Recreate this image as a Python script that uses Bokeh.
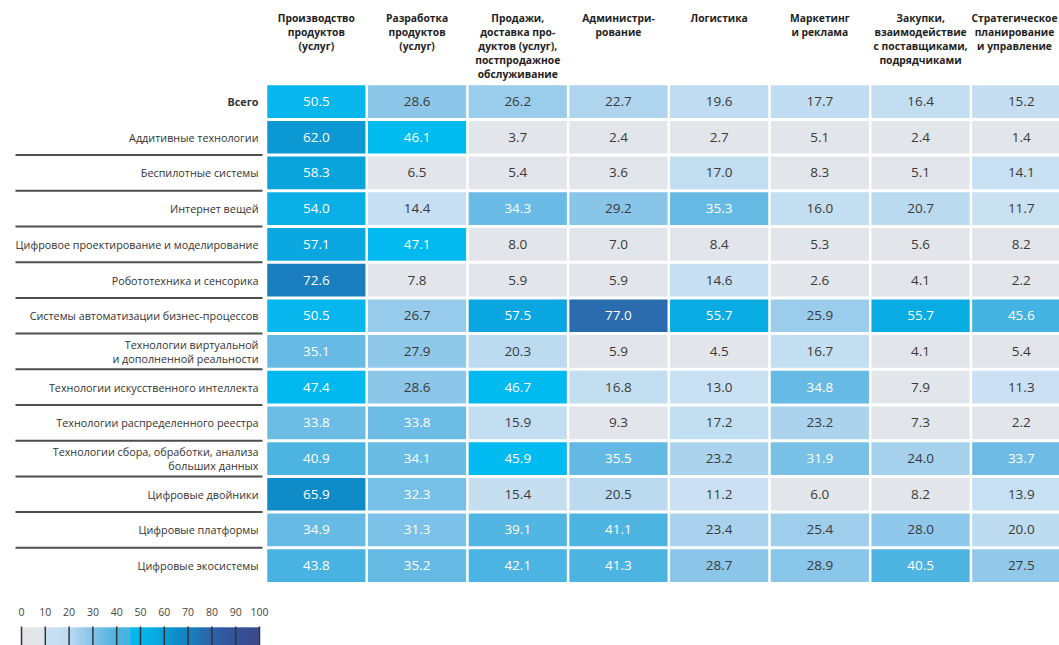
import numpy as np
from bokeh.plotting import figure
from bokeh.models import Range1d, LinearColorMapper, ColumnDataSource
from bokeh.core.properties import value
from bokeh.embed import file_html
from bokeh.resources import INLINE

# ---------------- data ----------------
columns = [
    "Производство\nпродуктов\n(услуг)",
    "Разработка\nпродуктов\n(услуг)",
    "Продажи,\nдоставка про-\nдуктов (услуг),\nпостпродажное\nобслуживание",
    "Администри-\nрование",
    "Логистика",
    "Маркетинг\nи реклама",
    "Закупки,\nвзаимодействие\nс поставщиками,\nподрядчиками",
    "Стратегическое\nпланирование\nи управление",
]

rows = [
    "Всего",
    "Аддитивные технологии",
    "Беспилотные системы",
    "Интернет вещей",
    "Цифровое проектирование и моделирование",
    "Робототехника и сенсорика",
    "Системы автоматизации бизнес-процессов",
    "Технологии виртуальной\nи дополненной реальности",
    "Технологии искусственного интеллекта",
    "Технологии распределенного реестра",
    "Технологии сбора, обработки, анализа\nбольших данных",
    "Цифровые двойники",
    "Цифровые платформы",
    "Цифровые экосистемы",
]

v_total        = [50.5, 28.6, 26.2, 22.7, 19.6, 17.7, 16.4, 15.2]
v_additive     = [62.0, 46.1, 3.7, 2.4, 2.7, 5.1, 2.4, 1.4]
v_unmanned     = [58.3, 6.5, 5.4, 3.6, 17.0, 8.3, 5.1, 14.1]
v_iot          = [54.0, 14.4, 34.3, 29.2, 35.3, 16.0, 20.7, 11.7]
v_design       = [57.1, 47.1, 8.0, 7.0, 8.4, 5.3, 5.6, 8.2]
v_robotics     = [72.6, 7.8, 5.9, 5.9, 14.6, 2.6, 4.1, 2.2]
v_bpa          = [50.5, 26.7, 57.5, 77.0, 55.7, 25.9, 55.7, 45.6]
v_vrar         = [35.1, 27.9, 20.3, 5.9, 4.5, 16.7, 4.1, 5.4]
v_ai           = [47.4, 28.6, 46.7, 16.8, 13.0, 34.8, 7.9, 11.3]
v_ledger       = [33.8, 33.8, 15.9, 9.3, 17.2, 23.2, 7.3, 2.2]
v_bigdata      = [40.9, 34.1, 45.9, 35.5, 23.2, 31.9, 24.0, 33.7]
v_twins        = [65.9, 32.3, 15.4, 20.5, 11.2, 6.0, 8.2, 13.9]
v_platforms    = [34.9, 31.3, 39.1, 41.1, 23.4, 25.4, 28.0, 20.0]
v_ecosystems   = [43.8, 35.2, 42.1, 41.3, 28.7, 28.9, 40.5, 27.5]

values = [v_total, v_additive, v_unmanned, v_iot, v_design, v_robotics, v_bpa,
          v_vrar, v_ai, v_ledger, v_bigdata, v_twins, v_platforms, v_ecosystems]

legend_ticks = [0, 10, 20, 30, 40, 50, 60, 70, 80, 90, 100]

# ---------------- colour scale ----------------
stops = [
    (0.0, "#e2e5e9"), (9.99, "#e2e5e9"), (10.0, "#cde2f3"), (20.0, "#bedcf0"),
    (23.0, "#acd3ee"), (30.0, "#84c3e8"), (35.0, "#66bae4"), (40.0, "#4fb4e2"),
    (45.7, "#45b3e2"), (45.8, "#00bbf0"), (52.0, "#08b5eb"), (58.0, "#0aa5de"),
    (62.0, "#0c98d2"), (66.0, "#0f8bc8"), (72.0, "#177fc0"), (77.0, "#2a6cad"),
    (85.0, "#3158a0"), (100.0, "#3b4a8e"),
]

def hex2rgb(h):
    return np.array([int(h[i:i + 2], 16) for i in (1, 3, 5)], dtype=float)

pos = np.array([s[0] for s in stops])
cols = np.array([hex2rgb(s[1]) for s in stops])
grid = np.linspace(0, 100, 1001)
palette = []
for g in grid:
    rgb = [np.interp(g, pos, cols[:, k]) for k in range(3)]
    palette.append("#%02x%02x%02x" % tuple(int(round(c)) for c in rgb))

mapper = LinearColorMapper(palette=palette, low=0, high=100)

# ---------------- layout (reference pixel space) ----------------
W, H = 1059, 645
X0, CW = 265.5, 100.7       # first column left edge, column width
Y0, RH = 83.2, 35.7         # first row top, row height
LABEL_X = 258

xs, ys, vals, txt, tcol = [], [], [], [], []
for r, rowvals in enumerate(values):
    for c, v in enumerate(rowvals):
        xs.append(X0 + (c + 0.5) * CW)
        ys.append(Y0 + (r + 0.5) * RH)
        vals.append(v)
        txt.append(f"{v:.1f}")
        tcol.append("#ffffff" if v >= 30 else "#3a3a3a")

src = ColumnDataSource(dict(x=xs, y=ys, v=vals, t=txt, tc=tcol))

p = figure(width=W, height=H, output_backend="svg", toolbar_location=None,
           x_range=Range1d(0, W), y_range=Range1d(H, 0),
           x_axis_location=None, y_axis_location=None, min_border=0,
           tools="")
p.grid.visible = False
p.outline_line_color = None
p.background_fill_color = "white"
p.border_fill_color = "white"

# cells
p.rect(x="x", y="y", width=CW - 2.5, height=RH - 3, source=src,
       fill_color={"field": "v", "transform": mapper}, line_color=None)
p.text(x="x", y="y", text="t", source=src, text_color="tc",
       text_font=value("Open Sans"), text_font_size="13.5px",
       text_align="center", text_baseline="middle")

# column headers
hx = [min(X0 + (i + 0.5) * CW, W - 45) for i in range(len(columns))]
hsrc = ColumnDataSource(dict(x=hx, y=[10] * len(columns), t=columns))
p.text(x="x", y="y", text="t", source=hsrc, text_color="#1e1e1e",
       text_font=value("Open Sans"), text_font_size="10.3px", text_font_style="bold",
       text_align="center", text_baseline="top", text_line_height=1.0)

# row labels
rsrc = ColumnDataSource(dict(x=[LABEL_X] * len(rows),
                             y=[Y0 + (i + 0.5) * RH for i in range(len(rows))],
                             t=rows,
                             fs=["bold" if i == 0 else "normal" for i in range(len(rows))]))
p.text(x="x", y="y", text="t", source=rsrc, text_color="#333333",
       text_font=value("Open Sans"), text_font_size="10.8px", text_font_style="fs",
       text_align="right", text_baseline="middle", text_line_height=0.9)

# separators between rows (from second row boundary)
sep_y = [Y0 + (i + 1) * RH for i in range(1, len(rows) - 1)]
p.segment(x0=[15] * len(sep_y), x1=[262] * len(sep_y), y0=sep_y, y1=sep_y,
          line_color="#4d4d4d", line_width=2)

# legend
LX0, LSCALE = 21, 2.38
gv = np.arange(0, 100, 0.5)
lsrc = ColumnDataSource(dict(x=LX0 + (gv + 0.25) * LSCALE, v=gv + 0.25))
p.rect(x="x", y=636, width=0.5 * LSCALE + 1.0, height=18, source=lsrc,
       fill_color={"field": "v", "transform": mapper}, line_color=None)
tx = [LX0 + t * LSCALE for t in legend_ticks]
p.segment(x0=tx, x1=tx, y0=[626] * len(tx), y1=[646] * len(tx),
          line_color="#333333", line_width=1.5)
p.text(x=tx, y=[611] * len(tx), text=[str(t) for t in legend_ticks],
       text_color="#444444", text_font=value("Open Sans"), text_font_size="10.5px",
       text_align="center", text_baseline="middle")

open("out.html", "w").write(file_html(p, INLINE))
